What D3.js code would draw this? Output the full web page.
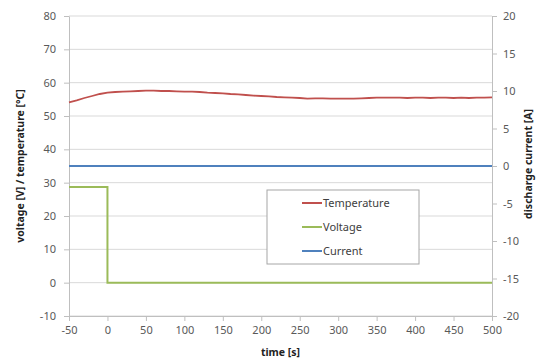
<!DOCTYPE html>
<html>
<head>
<meta charset="utf-8">
<script src="https://cdn.jsdelivr.net/npm/d3@7"></script>
<style>
  body { margin: 0; background: #fff; }
  #chart { width: 536px; height: 362px; }
  .axis text { font-family: "Noto Sans", sans-serif; font-size: 11px; fill: #595959; }
  .axis path, .axis line { stroke: #bfbfbf; }
  .title { font-family: "Noto Sans", sans-serif; font-size: 10.5px; font-weight: bold; fill: #222; }
</style>
</head>
<body>
<div id="chart"></div>
<script>
// temperature samples, every 10 s
const tempTime = d3.range(-50, 501, 10);
const tempValues = [
  54.1, 54.7, 55.4, 56.0, 56.6, 57.0, 57.2, 57.3, 57.4, 57.5,
  57.6, 57.6, 57.5, 57.5, 57.4, 57.3, 57.3, 57.2, 57.0, 56.9,
  56.8, 56.6, 56.5, 56.3, 56.1, 56.0, 55.9, 55.7, 55.6, 55.5,
  55.4, 55.2, 55.3, 55.3, 55.2, 55.2, 55.2, 55.2, 55.3, 55.4,
  55.5, 55.5, 55.5, 55.5, 55.4, 55.5, 55.5, 55.4, 55.5, 55.5,
  55.4, 55.5, 55.4, 55.5, 55.5, 55.6
];
const voltTime = [-50, 0, 0, 500];
const voltValues = [28.7, 28.7, 0, 0];
const currTime = [-50, 500];
const currValues = [0, 0];

const xTicks = d3.range(-50, 501, 50);
const leftTicks = d3.range(-10, 81, 10);
const rightTicks = d3.range(-20, 21, 5);
const legendNames = ["Temperature", "Voltage", "Current"];
const colors = ["#c0504d", "#9bbb59", "#4f81bd"];

const width = 536, height = 362;
const margin = { top: 16, right: 44, bottom: 46, left: 69 };
const fmt = d => String(d); // plain hyphen minus like the original

const svg = d3.select("#chart").append("svg")
  .attr("width", width)
  .attr("height", height);

const x = d3.scaleLinear().domain([-50, 500]).range([margin.left, width - margin.right]);
const yL = d3.scaleLinear().domain([-10, 80]).range([height - margin.bottom, margin.top]);
const yR = d3.scaleLinear().domain([-20, 20]).range([height - margin.bottom, margin.top]);

// gridlines
svg.append("g")
  .selectAll("line")
  .data(leftTicks)
  .enter().append("line")
  .attr("x1", x(-50)).attr("x2", x(500))
  .attr("y1", d => yL(d)).attr("y2", d => yL(d))
  .attr("stroke", "#d9d9d9");

svg.append("g").attr("class", "axis")
  .attr("transform", `translate(0,${yL(-10)})`)
  .call(d3.axisBottom(x).tickValues(xTicks).tickFormat(fmt).tickSize(5).tickPadding(5).tickSizeOuter(0));

svg.append("g").attr("class", "axis")
  .attr("transform", `translate(${x(-50)},0)`)
  .call(d3.axisLeft(yL).tickValues(leftTicks).tickFormat(fmt).tickSize(5).tickPadding(8).tickSizeOuter(0));

svg.append("g").attr("class", "axis")
  .attr("transform", `translate(${x(500)},0)`)
  .call(d3.axisRight(yR).tickValues(rightTicks).tickFormat(fmt).tickSize(5).tickPadding(6).tickSizeOuter(0));

// series
const lineL = d3.line().x(d => x(d[0])).y(d => yL(d[1]));
const lineR = d3.line().x(d => x(d[0])).y(d => yR(d[1]));

svg.append("path")
  .datum(d3.zip(currTime, currValues))
  .attr("fill", "none").attr("stroke", colors[2]).attr("stroke-width", 2)
  .attr("d", lineR);

svg.append("path")
  .datum(d3.zip(voltTime, voltValues))
  .attr("fill", "none").attr("stroke", colors[1]).attr("stroke-width", 2)
  .attr("d", lineL);

svg.append("path")
  .datum(d3.zip(tempTime, tempValues))
  .attr("fill", "none").attr("stroke", colors[0]).attr("stroke-width", 1.8)
  .attr("d", lineL);

// axis titles
svg.append("text").attr("class", "title")
  .attr("x", x(225)).attr("y", 356)
  .attr("text-anchor", "middle")
  .text("time [s]");

svg.append("text").attr("class", "title")
  .attr("transform", `translate(24,${yL(35)}) rotate(-90)`)
  .attr("text-anchor", "middle")
  .text("voltage [V] / temperature [°C]");

svg.append("text").attr("class", "title")
  .attr("transform", `translate(532,${yR(0) - 2}) rotate(-90)`)
  .attr("text-anchor", "middle")
  .text("discharge current [A]");

// legend
const legend = svg.append("g").attr("transform", "translate(267,190)");
legend.append("rect")
  .attr("width", 152).attr("height", 74)
  .attr("fill", "#fff").attr("stroke", "#a6a6a6");

legendNames.forEach((name, i) => {
  const row = legend.append("g").attr("transform", `translate(0,${13 + i * 24})`);
  row.append("line")
    .attr("x1", 35).attr("x2", 55)
    .attr("stroke", colors[i]).attr("stroke-width", 2);
  row.append("text")
    .attr("x", 56).attr("dy", "0.35em")
    .attr("font-family", "Noto Sans, sans-serif")
    .attr("font-size", 11)
    .attr("fill", "#404040")
    .text(name);
});
</script>
</body>
</html>
